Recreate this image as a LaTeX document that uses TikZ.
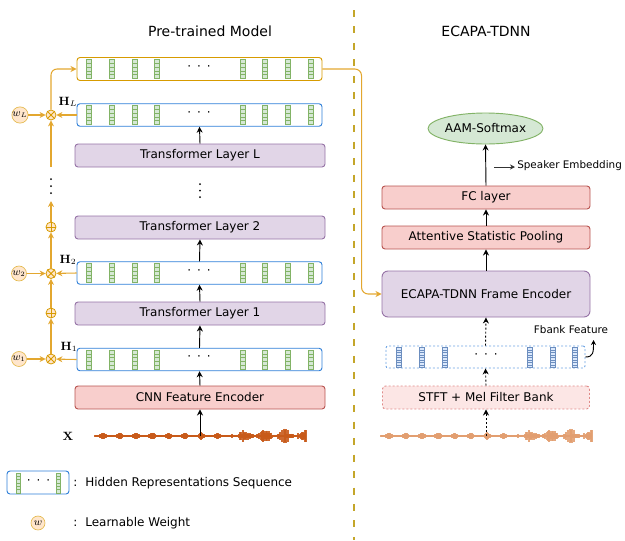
\documentclass[tikz,border=0pt]{standalone}
\usepackage[no-math]{fontspec}
\setmainfont{DejaVu Sans}
\usetikzlibrary{arrows.meta,calc,shapes.geometric}
\definecolor{orS}{HTML}{D79B00}
\definecolor{orL}{HTML}{E3A72F}
\definecolor{orF}{HTML}{FFE6CC}
\definecolor{hblue}{HTML}{2F7FD8}
\definecolor{lblue}{HTML}{6FA5E4}
\definecolor{bcS}{HTML}{6C8EBF}
\definecolor{bcF}{HTML}{DAE8FC}
\definecolor{gS}{HTML}{82B366}
\definecolor{gF}{HTML}{D5E8D4}
\definecolor{pS}{HTML}{9673A6}
\definecolor{pF}{HTML}{E1D5E7}
\definecolor{rS}{HTML}{B85450}
\definecolor{rF}{HTML}{F8CECC}
\definecolor{rLS}{HTML}{E08A88}
\definecolor{rLF}{HTML}{FCE6E5}
\definecolor{olive}{HTML}{C4A62A}
\definecolor{wavL}{HTML}{C85A19}
\definecolor{wavR}{HTML}{E29E70}
\newcommand{\fs}{\fontsize{9}{11}\selectfont}
\newcommand{\fsm}{\fontsize{7.8}{9}\selectfont}
\newcommand{\fst}{\fontsize{10.5}{12}\selectfont}
\newcommand{\cellstrip}[6]{% x, y, ncells, height, halfwidth, style
  \pgfmathsetmacro{\cellh}{#4/#3}
  \foreach \k in {1,...,#3}{
    \draw[#6] (#1-#5, #2-#4/2+\cellh*\k-\cellh) rectangle (#1+#5, #2-#4/2+\cellh*\k);
  }
}
\newcommand{\wavef}[2]{% x0, color
  \pgfmathsetseed{11}
  \draw[#2, line width=1.1pt] (#1,436) -- (#1+211,436);
  \foreach \i in {0,...,211}{
    \pgfmathsetmacro{\wamp}{\i<138 ? 0.8+2.8*(0.6+0.4*rnd)*abs(sin(\i*11))^6 : 1.2+6.5*rnd*abs(sin(\i*9))^2}
    \draw[#2, line width=0.8pt, opacity=0.9] (#1+\i,436-\wamp) -- (#1+\i,436+\wamp);
  }
}
\tikzset{
  boxbase/.style={rectangle, rounded corners=2.25pt, line width=0.7pt, font=\fs, inner sep=0pt},
  trbox/.style={boxbase, draw=pS, fill=pF, minimum width=187.5pt, minimum height=17.25pt},
  cnnbox/.style={boxbase, draw=rS, fill=rF, minimum width=187.5pt, minimum height=17.25pt},
  hbox/.style={boxbase, draw=hblue, fill=white, minimum width=183.75pt, minimum height=16.9pt},
  topbox/.style={boxbase, draw=orS, fill=white, minimum width=183.75pt, minimum height=17.25pt},
  rbox/.style={boxbase, draw=rS, fill=rF, minimum width=156pt, minimum height=17.25pt},
  gcell/.style={draw=gS, fill=gF, line width=0.4pt},
  bcell/.style={draw=bcS, fill=bcF, line width=0.4pt},
  arr/.style={-{Stealth[length=4.5pt,width=4.5pt]}, line width=0.7pt, black},
  darr/.style={arr, dash pattern=on 1.5pt off 1.5pt},
  oarr/.style={-{Stealth[length=4.5pt,width=4.5pt]}, line width=0.8pt, orL},
  wcirc/.style={circle, draw=orS!70, fill=orF, line width=0.5pt, minimum size=11.25pt, inner sep=0pt, font=\fsm},
  opcirc/.style={circle, draw=orS, fill=orF, line width=0.6pt, minimum size=7.5pt, inner sep=0pt},
  hlab/.style={font=\fs, inner sep=0pt},
  dotstxt/.style={font=\fs, inner sep=0pt},
}
\newcommand{\hidseq}[2]{% name, y
  \node[hbox] (#1) at (199.5,#2) {};
  \foreach \o in {12,35,58,80,166,188,211,234}{\cellstrip{77+\o}{#2}{5}{19}{2.6}{gcell}}
  \node[dotstxt] (#1d) at (199,#2-1) {·\hspace{4.5pt}·\hspace{4.5pt}·};
}
\begin{document}
\begin{tikzpicture}[x=0.75pt,y=-0.75pt]
\useasboundingbox (0,0) rectangle (625,540);
% titles
\node[font=\fst] (t1) at (210,31) {Pre-trained Model};
\node[font=\fst] (t2) at (486,31) {ECAPA-TDNN};
\draw[olive, line width=1.5pt, dash pattern=on 5.25pt off 7.1pt] (354,10) -- (354,540);

% left stack
\node[topbox] (top) at (199.5,69) {};
\foreach \o in {12,35,58,80,166,188,211,234}{\cellstrip{77+\o}{69}{5}{19}{2.6}{gcell}}
\node[dotstxt] (topd) at (199,68) {·\hspace{4.5pt}·\hspace{4.5pt}·};
\hidseq{hL}{115}
\node[trbox] (tlL) at (200,155.5) {Transformer Layer L};
\node[trbox] (tl2) at (200,227.5) {Transformer Layer 2};
\hidseq{h2}{273}
\node[trbox] (tl1) at (200,313.5) {Transformer Layer 1};
\hidseq{h1}{359.5}
\node[cnnbox] (cnn) at (200,397.5) {CNN Feature Encoder};
\foreach \yy in {184,190.5,197}{\fill (200,\yy) circle (0.75pt);}

\node[hlab] (HL) at (68,102) {$\mathbf{H}_L$};
\node[hlab] (H2) at (68,260) {$\mathbf{H}_2$};
\node[hlab] (H1) at (69,347) {$\mathbf{H}_1$};

\node[font=\fs] (X) at (68,436) {$\mathbf{X}$};
\wavef{95}{wavL}
\coordinate (wl) at (200,436);

% vertical arrows
\draw[arr] (wl) -- (cnn.south);
\draw[arr] (cnn.north) -- (h1.south);
\draw[arr] (h1.north) -- (tl1.south);
\draw[arr] (tl1.north) -- (h2.south);
\draw[arr] (h2.north) -- (tl2.south);
\draw[arr] (tlL.north) -- (hL.south);

% weights column
\node[wcirc] (wL) at (20,115) {$w_L$};
\node[wcirc] (w2) at (19,273.5) {$w_2$};
\node[wcirc] (w1) at (19,359) {$w_1$};
\node[opcirc] (oxL) at (51,115) {};
\node[opcirc] (ox2) at (51,273.5) {};
\node[opcirc] (ox1) at (51,359) {};
\node[opcirc] (op1) at (51,313) {};
\node[opcirc] (op2) at (51,227) {};
\foreach \n in {oxL,ox2,ox1}{
  \draw[orS, line width=0.6pt] (\n.north west) -- (\n.south east) (\n.north east) -- (\n.south west);
}
\foreach \n in {op1,op2}{
  \draw[orS, line width=0.6pt] (\n.north) -- (\n.south) (\n.west) -- (\n.east);
}
\draw[oarr] (w1) -- (ox1);
\draw[oarr] (w2) -- (ox2);
\draw[oarr] (wL) -- (oxL);
\draw[oarr] (h1.west) -- (ox1);
\draw[oarr] (h2.west) -- (ox2);
\draw[oarr] (hL.west) -- (oxL);
\draw[oarr] (ox1) -- (op1);
\draw[oarr] (op1) -- (ox2);
\draw[oarr] (ox2) -- (op2);
\coordinate (cdb) at (51,201);
\coordinate (cdt) at (51,167);
\draw[oarr] (op2) -- (cdb);
\draw[oarr] (cdt) -- (oxL);
\foreach \yy in {179,186,193}{\fill (51,\yy) circle (0.75pt);}
\draw[oarr, rounded corners=4.5pt] (oxL.north) |- (top.west);

% right stack
\node[ellipse, draw=gS, fill=gF, line width=0.7pt, minimum width=78.75pt, minimum height=23.25pt, inner sep=0pt, font=\fs] (aam) at (485.5,128.5) {AAM-Softmax};
\node[rbox] (fc) at (486,197.5) {FC layer};
\node[rbox] (asp) at (486,237.5) {Attentive Statistic Pooling};
\node[boxbase, draw=pS, fill=pF, minimum width=156pt, minimum height=34.5pt, rounded corners=4.5pt] (ecapa) at (486,294) {ECAPA-TDNN Frame Encoder};
\node[rectangle, draw=lblue, dash pattern=on 1.5pt off 1.5pt, line width=0.7pt, rounded corners=1.5pt, minimum width=149.25pt, minimum height=16.5pt] (fb) at (485.5,357) {};
\foreach \xx in {399,422,445,530,553,575}{\cellstrip{\xx}{357.5}{8}{20}{2.4}{bcell}}
\node[dotstxt] (fbd) at (486,356) {·\hspace{4.5pt}·\hspace{4.5pt}·};
\node[boxbase, draw=rLS, fill=rLF, dash pattern=on 1.5pt off 1.5pt, minimum width=155.25pt, minimum height=17.25pt] (stft) at (486,397.5) {STFT + Mel Filter Bank};
\wavef{381}{wavR}
\coordinate (wr) at (486,436);

\draw[darr] (wr) -- (stft.south);
\draw[darr] (stft.north) -- (fb.south);
\draw[darr] (fb.north) -- (ecapa.south);
\draw[arr] (ecapa.north) -- (asp.south);
\draw[arr] (asp.north) -- (fc.south);
\draw[arr] (fc.north) -- (aam.south);

\coordinate (se1) at (494,167);
\coordinate (se2) at (515,167);
\draw[-{Stealth[length=3.75pt,width=3.75pt]}, line width=0.75pt, black!80] (se1) -- (se2);
\node[font=\fsm, anchor=west, inner sep=0pt] (se) at (517,166) {Speaker Embedding};
\node[font=\fsm, inner sep=0pt] (fbt) at (571,330) {Fbank Feature};
\coordinate (fbarr) at (593.5,340);
\draw[-{Stealth[length=3.75pt,width=3.75pt]}, line width=0.7pt, black] (fb.east) .. controls (593.5,357) and (593.5,352) .. (fbarr);

% orange connector to ECAPA
\draw[oarr, rounded corners=5pt] (top.east) -| ([xshift=-15pt]ecapa.west) -- (ecapa.west);

% legend
\node[hbox, minimum width=46.5pt, minimum height=17.25pt] (lg) at (38,482.5) {};
\cellstrip{18}{483}{6}{20}{2.2}{gcell}
\cellstrip{58}{483}{6}{20}{2.2}{gcell}
\node[dotstxt] (lgd) at (38.5,482) {·\hspace{4.5pt}·\hspace{4.5pt}·};
\node[font=\fs, anchor=west, inner sep=0pt] (lgt) at (73,483) {:\hspace{6pt}Hidden Representations Sequence};
\node[wcirc, minimum size=10.5pt] (lw) at (38,523) {$w$};
\node[font=\fs, anchor=west, inner sep=0pt] (lwt) at (73,523) {:\hspace{6pt}Learnable Weight};
\end{tikzpicture}
\end{document}
